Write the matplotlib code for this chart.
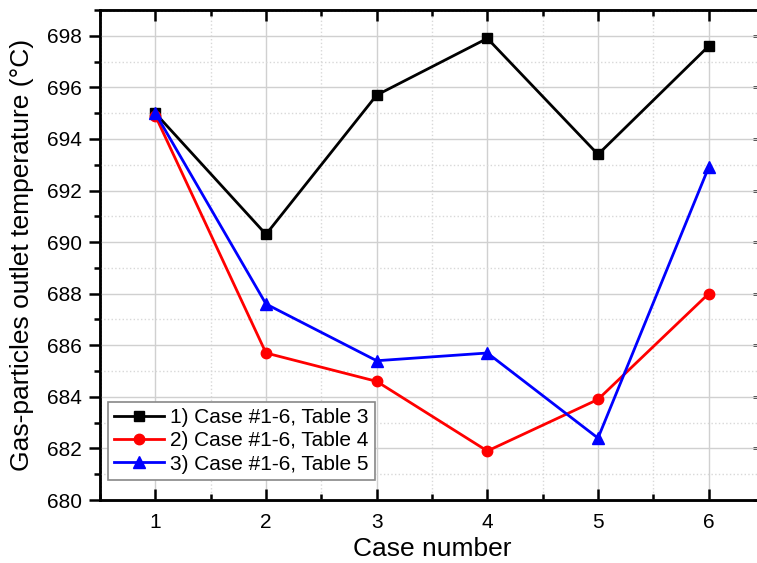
import matplotlib
matplotlib.use('Agg')
import matplotlib.pyplot as plt
from matplotlib.ticker import MultipleLocator

plt.rcParams['font.family'] = ['Liberation Sans', 'DejaVu Sans']

cases = [1, 2, 3, 4, 5, 6]
table3 = [695.0, 690.3, 695.7, 697.9, 693.4, 697.6]
table4 = [694.9, 685.7, 684.6, 681.9, 683.9, 688.0]
table5 = [695.0, 687.6, 685.4, 685.7, 682.4, 692.9]

fig = plt.figure(figsize=(7.57, 5.63), dpi=100)
ax = fig.add_axes([100 / 757, 63 / 563, 664 / 757, 490 / 563])

ax.plot(cases, table3, '-s', color='black', lw=2, markersize=7.5, label='1) Case #1-6, Table 3')
ax.plot(cases, table4, '-o', color='red', lw=2, markersize=7.5, label='2) Case #1-6, Table 4')
ax.plot(cases, table5, '-^', color='blue', lw=2, markersize=8.5, label='3) Case #1-6, Table 5')

ax.set_xlim(0.5, 6.5)
ax.set_ylim(680, 699)
ax.xaxis.set_major_locator(MultipleLocator(1))
ax.xaxis.set_minor_locator(MultipleLocator(0.5))
ax.yaxis.set_major_locator(MultipleLocator(2))
ax.yaxis.set_minor_locator(MultipleLocator(1))

ax.grid(which='major', color='#d0d0d0', lw=1, ls='-')
ax.grid(which='minor', color='#d8d8d8', lw=1, ls=':')
ax.set_axisbelow(True)

ax.tick_params(axis='x', which='both', direction='in', top=True, labelsize=15, width=1.8, pad=9)
ax.tick_params(axis='y', which='both', direction='out', labelsize=15, width=1.8, pad=5)
ax.tick_params(which='major', length=8)
ax.tick_params(which='minor', length=4)
# right side ticks point inward, unlike the left ones
ax2 = ax.twinx()
ax2.set_ylim(ax.get_ylim())
ax2.yaxis.set_major_locator(MultipleLocator(2))
ax2.yaxis.set_minor_locator(MultipleLocator(1))
ax2.tick_params(which='both', direction='in', labelright=False, width=1.8)
ax2.tick_params(which='major', length=8)
ax2.tick_params(which='minor', length=4)
for a in (ax, ax2):
    for s in a.spines.values():
        s.set_linewidth(1.8)

ax.set_xlabel('Case number', fontsize=19, labelpad=4)
ax.set_ylabel('Gas-particles outlet temperature (°C)', fontsize=19, labelpad=9)

leg = ax.legend(loc='lower left', bbox_to_anchor=(0.012, 0.041), borderaxespad=0, fontsize=15,
                fancybox=False, edgecolor='#888888', framealpha=1, handlelength=2.4, borderpad=0.3,
                labelspacing=0.2, handletextpad=0.3)
leg.get_frame().set_linewidth(1.2)
ax.set_zorder(ax2.get_zorder() + 1)
ax.patch.set_visible(False)

fig.savefig('out.png', dpi=100)
